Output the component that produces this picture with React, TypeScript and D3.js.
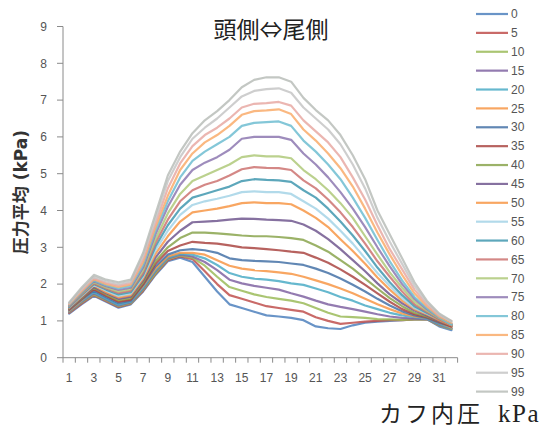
import React from "react";
import * as d3 from "d3";

const categories = Array.from({ length: 32 }, (_, i) => String(i + 1));
const xLabels = ["1","3","5","7","9","11","13","15","17","19","21","23","25","27","29","31"];
const yTicks = [0, 1, 2, 3, 4, 5, 6, 7, 8, 9];
const seriesNames = ["0","5","10","15","20","25","30","35","40","45","50","55","60","65","70","75","80","85","90","95","99"];
const seriesColors = ["#4F81BD","#C0504D","#9BBB59","#8064A2","#4BACC6","#F79646","#4572A7","#AA4643","#89A54E","#71588F","#F79646","#A5D3E6","#4198AF","#CD7371","#AFC97A","#8D78B0","#6FBDD1","#F9AB6B","#E8A9A3","#C6C6C6","#B8BDB8"];

const s0 = [1.20,1.45,1.68,1.52,1.36,1.45,1.80,2.25,2.62,2.72,2.60,2.20,1.80,1.45,1.35,1.25,1.15,1.12,1.08,1.02,0.85,0.80,0.78,0.88,0.95,0.98,1.00,1.02,1.04,1.05,0.85,0.75];
const s5 = [1.22,1.47,1.70,1.54,1.38,1.47,1.82,2.28,2.65,2.75,2.68,2.35,2.00,1.70,1.60,1.50,1.40,1.35,1.30,1.25,1.10,1.00,0.92,0.95,0.98,1.00,1.02,1.02,1.04,1.05,0.88,0.78];
const s10 = [1.24,1.50,1.72,1.56,1.40,1.48,1.85,2.30,2.68,2.78,2.72,2.50,2.20,1.92,1.82,1.72,1.65,1.60,1.55,1.48,1.35,1.22,1.12,1.10,1.08,1.05,1.04,1.03,1.04,1.05,0.88,0.78];
const s15 = [1.25,1.52,1.75,1.58,1.42,1.50,1.88,2.35,2.70,2.80,2.75,2.60,2.38,2.12,2.02,1.95,1.90,1.85,1.75,1.66,1.55,1.45,1.38,1.32,1.25,1.18,1.12,1.08,1.06,1.05,0.90,0.80];
const s20 = [1.27,1.54,1.78,1.60,1.44,1.52,1.90,2.38,2.72,2.82,2.80,2.70,2.52,2.30,2.20,2.15,2.12,2.08,2.02,1.98,1.88,1.78,1.65,1.55,1.42,1.32,1.22,1.15,1.10,1.06,0.92,0.80];
const s25 = [1.28,1.56,1.85,1.68,1.52,1.56,1.95,2.42,2.75,2.85,2.85,2.80,2.65,2.50,2.42,2.38,2.35,2.32,2.28,2.20,2.10,2.00,1.88,1.75,1.60,1.45,1.32,1.20,1.12,1.08,0.95,0.82];
const s30 = [1.30,1.58,1.82,1.64,1.48,1.55,1.98,2.48,2.80,2.92,2.95,2.92,2.85,2.70,2.65,2.63,2.62,2.60,2.56,2.52,2.42,2.30,2.15,1.98,1.80,1.60,1.42,1.26,1.15,1.08,0.95,0.85];
const s35 = [1.31,1.60,1.86,1.68,1.52,1.58,2.00,2.55,2.90,3.05,3.15,3.12,3.10,3.05,3.00,2.98,2.95,2.92,2.88,2.85,2.72,2.58,2.40,2.20,1.98,1.75,1.52,1.32,1.18,1.10,0.98,0.85];
const s40 = [1.33,1.62,1.90,1.72,1.56,1.62,2.05,2.62,3.00,3.25,3.40,3.40,3.38,3.35,3.32,3.30,3.30,3.28,3.25,3.20,3.05,2.88,2.65,2.42,2.15,1.88,1.62,1.40,1.22,1.12,1.00,0.88];
const s45 = [1.34,1.64,1.92,1.75,1.60,1.66,2.10,2.72,3.15,3.45,3.68,3.70,3.72,3.75,3.78,3.77,3.75,3.74,3.72,3.62,3.45,3.22,2.95,2.65,2.35,2.02,1.72,1.48,1.28,1.15,1.00,0.90];
const s50 = [1.36,1.66,1.96,1.78,1.64,1.70,2.15,2.82,3.30,3.70,3.95,4.00,4.05,4.12,4.20,4.22,4.20,4.20,4.17,4.00,3.80,3.55,3.22,2.90,2.55,2.18,1.85,1.55,1.32,1.18,1.02,0.88];
const s55 = [1.37,1.68,1.98,1.82,1.68,1.74,2.20,2.92,3.45,3.88,4.15,4.25,4.32,4.40,4.50,4.52,4.50,4.50,4.45,4.25,4.05,3.78,3.45,3.10,2.70,2.30,1.95,1.62,1.35,1.20,1.05,0.92];
const s60 = [1.38,1.70,2.00,1.85,1.72,1.78,2.25,3.02,3.60,4.05,4.35,4.45,4.55,4.65,4.80,4.85,4.83,4.82,4.78,4.55,4.35,4.05,3.70,3.32,2.90,2.45,2.05,1.70,1.40,1.22,1.05,0.90];
const s65 = [1.40,1.72,2.02,1.88,1.76,1.82,2.30,3.12,3.75,4.25,4.55,4.70,4.80,4.95,5.12,5.18,5.16,5.15,5.10,4.82,4.60,4.30,3.95,3.55,3.10,2.62,2.20,1.80,1.45,1.25,1.05,0.88];
const s70 = [1.41,1.74,2.05,1.91,1.80,1.86,2.38,3.22,3.92,4.45,4.80,4.95,5.10,5.25,5.45,5.50,5.47,5.47,5.42,5.10,4.85,4.55,4.20,3.80,3.30,2.80,2.32,1.90,1.52,1.28,1.08,0.90];
const s75 = [1.42,1.76,2.08,1.94,1.84,1.90,2.45,3.35,4.10,4.70,5.10,5.30,5.45,5.65,5.95,6.00,6.00,6.00,5.92,5.55,5.25,4.90,4.50,4.05,3.55,3.00,2.48,2.00,1.60,1.32,1.10,0.92];
const s80 = [1.44,1.78,2.10,1.97,1.88,1.95,2.52,3.45,4.25,4.90,5.35,5.60,5.80,6.00,6.30,6.38,6.40,6.42,6.30,5.90,5.60,5.25,4.85,4.35,3.80,3.20,2.62,2.10,1.65,1.35,1.10,0.90];
const s85 = [1.45,1.80,2.13,2.00,1.92,1.99,2.60,3.55,4.40,5.10,5.55,5.85,6.05,6.30,6.60,6.70,6.72,6.75,6.62,6.20,5.90,5.55,5.15,4.65,4.05,3.40,2.80,2.25,1.75,1.40,1.12,0.95];
const s90 = [1.47,1.83,2.16,2.03,1.96,2.03,2.68,3.65,4.60,5.28,5.75,6.05,6.25,6.50,6.80,6.90,6.92,6.95,6.85,6.45,6.15,5.85,5.45,4.90,4.30,3.60,2.95,2.40,1.85,1.45,1.15,1.00];
const s95 = [1.48,1.86,2.20,2.07,2.00,2.07,2.78,3.78,4.80,5.45,5.95,6.25,6.50,6.80,7.10,7.25,7.30,7.32,7.20,6.80,6.50,6.20,5.80,5.25,4.60,3.80,3.15,2.55,1.95,1.50,1.18,0.98];
const s99 = [1.50,1.90,2.25,2.12,2.05,2.12,2.85,3.90,4.95,5.60,6.10,6.45,6.70,7.00,7.35,7.55,7.62,7.62,7.50,7.06,6.73,6.45,6.05,5.50,4.85,4.00,3.35,2.70,2.05,1.55,1.20,1.00];

const seriesValues = [s0,s5,s10,s15,s20,s25,s30,s35,s40,s45,s50,s55,s60,s65,s70,s75,s80,s85,s90,s95,s99];

export default function App() {
  const W = 553, H = 427;
  const x = d3.scaleBand<string>().domain(categories).range([63, 457.6]);
  const y = d3.scaleLinear().domain([0, 9]).range([357.7, 26.5]);
  const cx = (c: string) => (x(c) as number) + x.bandwidth() / 2;
  const line = d3.line<number>().x((_, i) => cx(categories[i])).y((v) => y(v));
  const ly = d3.scaleLinear().domain([0, seriesNames.length - 1]).range([14, 391.6]);
  const axisColor = "#8a8a8a";
  const tickFont = "Liberation Sans, Arial, sans-serif";
  const boundaries = [...categories.map((c) => x(c) as number), 457.6];

  return (
    <svg width={W} height={H} style={{ position: "absolute", left: 0, top: 0, background: "#fff" }}>
      <rect x={0} y={0} width={W} height={H} fill="#fff" />
      {/* y axis */}
      <line x1={63} x2={63} y1={y(9)} y2={y(0)} stroke={axisColor} strokeWidth={1} />
      {yTicks.map((t) => (
        <g key={t}>
          <line x1={57} x2={63} y1={y(t)} y2={y(t)} stroke={axisColor} />
          <text x={47} y={y(t)} dy="0.35em" textAnchor="end" fontSize={12} fontFamily={tickFont} fill="#555">{t}</text>
        </g>
      ))}
      {/* x axis */}
      <line x1={63} x2={457.6} y1={y(0)} y2={y(0)} stroke={axisColor} />
      {boundaries.map((b, i) => (
        <line key={i} x1={b} x2={b} y1={y(0)} y2={y(0) + 5} stroke={axisColor} />
      ))}
      {xLabels.map((l) => (
        <text key={l} x={cx(l)} y={378} dy="0.35em" textAnchor="middle" fontSize={12} fontFamily={tickFont} fill="#555">{l}</text>
      ))}
      {/* series */}
      <g fill="none" strokeWidth={2.2} strokeLinejoin="round" strokeLinecap="round">
        {seriesValues.map((vals, i) => (
          <path key={i} d={line(vals) || ""} stroke={seriesColors[i]} strokeOpacity={0.85} />
        ))}
      </g>
      {/* legend */}
      {seriesNames.map((n, i) => (
        <g key={n}>
          <line x1={476} x2={508} y1={ly(i)} y2={ly(i)} stroke={seriesColors[i]} strokeWidth={2.2} strokeOpacity={0.85} />
          <text x={511} y={ly(i)} dy="0.35em" fontSize={12} fontFamily={tickFont} fill="#555">{n}</text>
        </g>
      ))}
      {/* titles */}
      <text x={271} y={38} textAnchor="middle" fontSize={23} fontFamily="Noto Sans CJK JP, sans-serif" fill="#222">頭側⇔尾側</text>
      <text transform="translate(27,192) rotate(-90)" textAnchor="middle" fontSize={17} fontWeight="bold" fontFamily="DejaVu Sans, Noto Sans CJK JP, sans-serif" fill="#333">圧力平均 (kPa)</text>
      <text x={379} y={422} fontSize={23} letterSpacing={3} fontFamily="Liberation Serif, Noto Sans CJK JP, serif" fill="#222">
        <tspan>カフ内圧</tspan>
        <tspan x={498} fontSize={25} letterSpacing={1.5}>kPa</tspan>
      </text>
    </svg>
  );
}
